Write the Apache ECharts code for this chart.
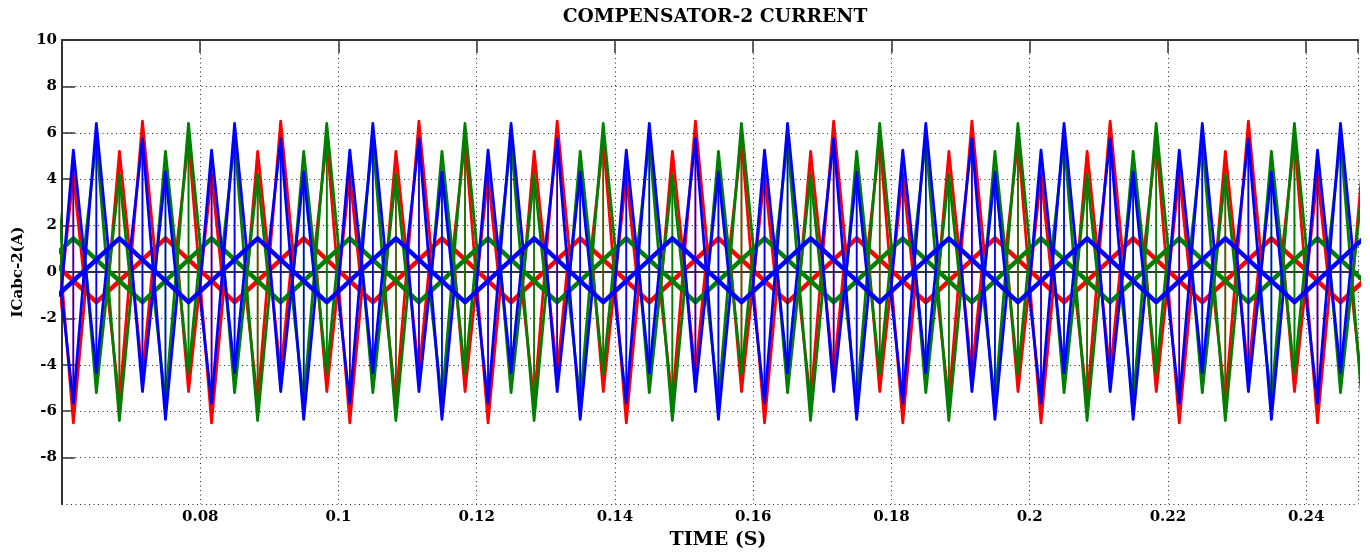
<!DOCTYPE html>
<html><head><meta charset="utf-8">
<script src="https://cdn.jsdelivr.net/npm/echarts@6/dist/echarts.min.js"></script>
<style>html,body{margin:0;padding:0;background:#fff}#c{width:1370px;height:556px}</style>
</head><body><div id="c"></div>
<script>
// ---- values ----
const titleText = 'COMPENSATOR-2 CURRENT';
const xName = 'TIME (S)';
const yName = 'ICabc-2(A)';
const xMin = 0.06, xMax = 0.2475, xStep = 0.02;
const yMin = -10, yMax = 10, yStep = 2;

// time (s) of the first switching event of each 50 Hz cycle, per phase
const redCycles   = [0.02831, 0.04831, 0.06831, 0.08831, 0.10831, 0.12831, 0.14831, 0.16831, 0.18831, 0.20831, 0.22831, 0.24831];
const greenCycles = [0.03497, 0.05497, 0.07497, 0.09497, 0.11497, 0.13497, 0.15497, 0.17497, 0.19497, 0.21497, 0.23497];
const blueCycles  = [0.04164, 0.06164, 0.08164, 0.10164, 0.12164, 0.14164, 0.16164, 0.18164, 0.20164, 0.22164, 0.24164];

// within one cycle: the four switching events (offset s), their top and bottom values (A)
const eventOffset = [0, 0.00333, 0.01, 0.01333];
const redTop      = [5.2, 6.5, 5.7, 4.2];
const redBottom   = [-5.6, -4.4, -5.15, -6.5];
const greenTop    = [5.2, 6.4, 5.7, 4.2];
const greenBottom = [-5.6, -4.4, -5.2, -6.4];
const blueTop     = [5.25, 6.4, 5.75, 4.3];
const blueBottom  = [-5.65, -4.35, -5.15, -6.35];
// where the ripple leaves / rejoins the slow 50 Hz wave (offset s, value A)
const kneeOffset = [-0.00174, 0.00507, 0.00826, 0.01507];
const kneeValue  = [-0.86, 1.0, 1.0, -0.86];
// slow 50 Hz wave: crest and trough in each cycle (offset s, value A)
const slowOffset = [0.00667, 0.01667];
const slowValue  = [1.45, -1.3];

const phases = [
  {color: '#ff0000', cycles: redCycles,   top: redTop,   bottom: redBottom},
  {color: '#008000', cycles: greenCycles, top: greenTop, bottom: greenBottom},
  {color: '#0000ff', cycles: blueCycles,  top: blueTop,  bottom: blueBottom}
];

function build(ph) {
  const ramps = [], verts = [], slow = [];
  ph.cycles.forEach(s => {
    const T = eventOffset.map((o, i) => [s + o, ph.top[i]]);
    const B = eventOffset.map((o, i) => [s + o, ph.bottom[i]]);
    const K = kneeOffset.map((o, i) => [s + o, kneeValue[i]]);
    ramps.push({coords: [K[0], T[0], B[1], K[1]]});
    ramps.push({coords: [K[0], B[0], T[1], K[1]]});
    ramps.push({coords: [K[2], T[2], B[3], K[3]]});
    ramps.push({coords: [K[2], B[2], T[3], K[3]]});
    for (let i = 0; i < 4; i++) verts.push({coords: [T[i], B[i]]});
    slowOffset.forEach((o, i) => slow.push([s + o, slowValue[i]]));
  });
  return {ramps, verts, slow: [{coords: slow}]};
}

const series = [];
phases.forEach(ph => {
  const d = build(ph);
  const base = {type: 'lines', coordinateSystem: 'cartesian2d', polyline: true, clip: true, silent: true, animation: false};
  series.push(Object.assign({}, base, {data: d.slow, lineStyle: {color: ph.color, width: 4.5, opacity: 1, join: 'round', cap: 'round'}}));
  series.push(Object.assign({}, base, {data: d.ramps, lineStyle: {color: ph.color, width: 2.8, opacity: 1, join: 'round', cap: 'round'}}));
  series.push(Object.assign({}, base, {data: d.verts, lineStyle: {color: ph.color, width: 1.6, opacity: 1}}));
});

const font = 'DejaVu Serif';
const axisCol = '#333';
const gridDots = {color: '#222', width: 1, type: [1, 3.5]};
const tick = {show: true, inside: true, length: 13, lineStyle: {color: axisCol, width: 1.5}};

const chart = echarts.init(document.getElementById('c'), null, {renderer: 'canvas'});
chart.setOption({
  animation: false,
  backgroundColor: '#fff',
  title: {text: titleText, left: 715, textAlign: 'center', top: 8, padding: 0,
    textStyle: {fontFamily: font, fontWeight: 'bold', fontSize: 18.7, color: '#000'}},
  grid: {left: 62, top: 40, width: 1296, height: 464, containLabel: false},
  xAxis: [
    {type: 'value', min: xMin, max: xMax, interval: xStep, position: 'bottom',
     name: xName, nameLocation: 'middle', nameGap: 27,
     nameTextStyle: {fontFamily: font, fontWeight: 'bold', fontSize: 19, color: '#000', padding: [0, 0, 0, 16]},
     axisLine: {show: true, lineStyle: {color: axisCol, width: 2}},
     axisTick: tick,
     axisLabel: {fontFamily: font, fontWeight: 'bold', fontSize: 15, color: '#000', margin: 6,
       showMinLabel: false, showMaxLabel: false},
     splitLine: {show: true, lineStyle: gridDots}},
    {type: 'value', min: xMin, max: xMax, interval: xStep, position: 'top',
     axisLine: {show: true, lineStyle: {color: axisCol, width: 2}},
     axisTick: tick, axisLabel: {show: false}, splitLine: {show: false}}
  ],
  yAxis: [
    {type: 'value', min: yMin, max: yMax, interval: yStep, position: 'left',
     name: yName, nameLocation: 'middle', nameGap: 36, nameRotate: 90,
     nameTextStyle: {fontFamily: font, fontWeight: 'bold', fontSize: 15, color: '#000'},
     axisLine: {show: true, lineStyle: {color: axisCol, width: 2}},
     axisTick: tick,
     axisLabel: {fontFamily: font, fontWeight: 'bold', fontSize: 15, color: '#000', margin: 5,
       showMinLabel: false},
     splitLine: {show: true, lineStyle: gridDots}}
  ],
  series: series
});
</script></body></html>
